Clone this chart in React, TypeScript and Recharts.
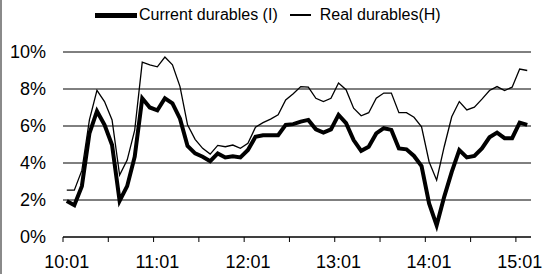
import { CartesianGrid, Legend, Line, LineChart, XAxis, YAxis } from "recharts";

// monthly, 2010:01 .. 2015:02
const months = [
  "10:01", "10:02", "10:03", "10:04", "10:05", "10:06", "10:07", "10:08", "10:09", "10:10", "10:11", "10:12",
  "11:01", "11:02", "11:03", "11:04", "11:05", "11:06", "11:07", "11:08", "11:09", "11:10", "11:11", "11:12",
  "12:01", "12:02", "12:03", "12:04", "12:05", "12:06", "12:07", "12:08", "12:09", "12:10", "12:11", "12:12",
  "13:01", "13:02", "13:03", "13:04", "13:05", "13:06", "13:07", "13:08", "13:09", "13:10", "13:11", "13:12",
  "14:01", "14:02", "14:03", "14:04", "14:05", "14:06", "14:07", "14:08", "14:09", "14:10", "14:11", "14:12",
  "15:01", "15:02",
];

const currentDurables = [
  1.94, 1.72, 2.75, 5.6, 6.8, 6.06, 4.97, 1.95, 2.75, 4.34, 7.5, 7.0,
  6.85, 7.5, 7.23, 6.4, 4.92, 4.52, 4.34, 4.1, 4.52, 4.3, 4.36, 4.3,
  4.7, 5.42, 5.5, 5.5, 5.5, 6.06, 6.1, 6.24, 6.33, 5.82, 5.64, 5.82,
  6.6, 6.15, 5.24, 4.66, 4.88, 5.6, 5.88, 5.79, 4.79, 4.74, 4.38, 3.83,
  1.81, 0.63, 2.17, 3.52, 4.7, 4.3, 4.38, 4.79, 5.39, 5.64, 5.34, 5.34,
  6.18, 6.06,
];

const realDurables = [
  2.53, 2.53, 3.6, 6.33, 7.93, 7.32, 6.33, 3.35, 4.16, 5.78, 9.45, 9.31,
  9.2, 9.73, 9.31, 8.13, 6.06, 5.28, 4.79, 4.48, 4.95, 4.88, 4.97, 4.79,
  5.06, 5.93, 6.18, 6.37, 6.6, 7.41, 7.74, 8.13, 8.1, 7.5, 7.32, 7.5,
  8.32, 7.96, 6.96, 6.55, 6.72, 7.5, 7.78, 7.78, 6.72, 6.72, 6.47, 5.96,
  4.07, 3.07, 4.88, 6.5, 7.32, 6.87, 7.02, 7.45, 7.92, 8.13, 7.92, 8.1,
  9.08, 9.0,
];

const labelTicks = [0, 12, 24, 36, 48, 60];
const markTicks = [-0.5, 5.5, 11.5, 17.5, 23.5, 29.5, 35.5, 41.5, 47.5, 53.5, 59.5];
const yTicks = [0, 2, 4, 6, 8, 10];

const data = months.map((m, i) => ({
  idx: i,
  month: m,
  current: currentDurables[i],
  real: realDurables[i],
}));

const FONT = "'Liberation Sans', Arial, sans-serif";

function MonthTick({ x, y, payload }: any) {
  const v = payload.value;
  if (Number.isInteger(v)) {
    return (
      <text x={x} y={y + 31} textAnchor="middle" fontSize={18} fill="#000" fontFamily={FONT}>
        {months[v]}
      </text>
    );
  }
  return <line x1={x} x2={x} y1={y} y2={y + 5} stroke="#000" strokeWidth={1} />;
}

function LegendBox() {
  return (
    <div style={{ display: "flex", alignItems: "center", fontFamily: FONT, fontSize: 16, color: "#000", whiteSpace: "nowrap" }}>
      <span style={{ display: "inline-block", width: 42, height: 5, background: "#000", marginRight: 2 }} />
      <span style={{ marginRight: 12 }}>Current durables (I)</span>
      <span style={{ display: "inline-block", width: 21, height: 1.5, background: "#000", marginRight: 9 }} />
      <span>Real durables(H)</span>
    </div>
  );
}

export default function App() {
  return (
    <div style={{ position: "absolute", left: 0, top: 0, width: 543, height: 274, background: "#fff" }}>
      <div style={{ position: "absolute", left: 0, top: 0, width: 2, height: 274, background: "#8a8a8a" }} />
      <LineChart
        width={543}
        height={274}
        data={data}
        margin={{ top: 52, right: 12, left: 0, bottom: 0 }}
      >
        <CartesianGrid horizontal vertical={false} stroke="#000" strokeWidth={1} />
        <XAxis
          dataKey="idx"
          type="number"
          domain={[-0.5, 61.5]}
          ticks={[...markTicks, ...labelTicks].sort((a, b) => a - b)}
          interval={0}
          tick={<MonthTick />}
          tickLine={false}
          tickSize={0}
          tickMargin={0}
          axisLine={{ stroke: "#000", strokeWidth: 1 }}
          height={37}
        />
        <YAxis
          domain={[0, 10]}
          ticks={yTicks}
          tickFormatter={(v) => `${v}%`}
          axisLine={false}
          tickLine={false}
          tickSize={0}
          tickMargin={17}
          width={63}
          tick={{ fontSize: 18, fill: "#000", fontFamily: FONT }}
        />
        <Legend
          layout="horizontal"
          verticalAlign="middle"
          align="center"
          content={() => <LegendBox />}
          wrapperStyle={{ top: 6, left: 95, width: "auto" }}
        />
        <Line
          dataKey="current"
          name="Current durables (I)"
          stroke="#000"
          strokeWidth={4}
          dot={false}
          type="linear"
          isAnimationActive={false}
        />
        <Line
          dataKey="real"
          name="Real durables(H)"
          stroke="#000"
          strokeWidth={1.3}
          dot={false}
          type="linear"
          isAnimationActive={false}
        />
      </LineChart>
    </div>
  );
}
